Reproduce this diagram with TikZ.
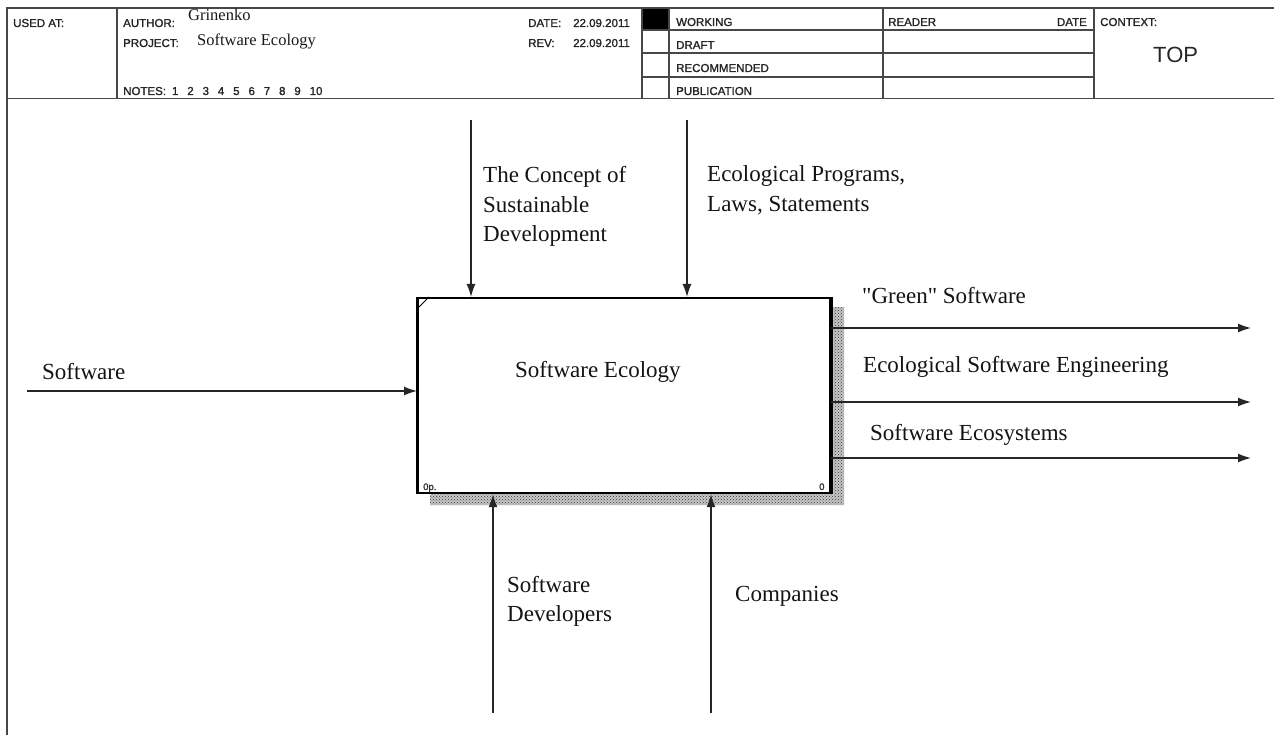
\documentclass[tikz,border=0pt]{standalone}
\usepackage{fontspec}
\setmainfont{Liberation Serif}
\newfontfamily\formfont{Liberation Sans}[FakeBold=1.5]
\newfontfamily\topfont{Liberation Sans}
\usetikzlibrary{arrows.meta,patterns}

\begin{document}
\begin{tikzpicture}[x=1pt,y=-1pt,
  formline/.style={draw=black!72,line width=1.7pt},
  formtext/.style={font=\formfont\fontsize{11.5}{13}\selectfont,text=black!85,inner sep=0pt,anchor=base west},
  formvalue/.style={font=\fontsize{16.5}{19}\selectfont,text=black!90,inner sep=0pt,anchor=base west},
  lbl/.style={font=\fontsize{23}{29.5}\selectfont,text=black!92,inner sep=0pt,anchor=base west},
  flow/.style={draw=black!85,line width=1.4pt,-{Latex[length=13pt,width=9pt]}},
  tag/.style={font=\formfont\fontsize{9.5}{10}\selectfont,text=black!80,inner sep=0pt,anchor=base west}
]
\useasboundingbox (0,0) rectangle (1274,735);
\fill[white] (0,0) rectangle (1274,735);

% ---------- form header ----------
\fill[black] (642,8) rectangle (668,30);
\draw[formline] (7,735) -- (7,8) -- (1274,8);
\draw[formline] (7,98.5) -- (1274,98.5);
\draw[formline] (117,8) -- (117,98.5);
\draw[formline] (642,8) -- (642,98.5);
\draw[formline,line width=2.2pt] (669,8) -- (669,98.5);
\draw[formline] (883,8) -- (883,98.5);
\draw[formline] (1094,8) -- (1094,98.5);
\foreach \yy in {30,53,77} \draw[formline] (642,\yy) -- (1094,\yy);

\node[formtext] (usedat) at (13,27) {USED AT:};
\node[formtext] (author) at (123,27) {AUTHOR:};
\node[formvalue] (authorname) at (188,21) {Grinenko};
\node[formtext] (project) at (123,47) {PROJECT:};
\node[formvalue] (projectname) at (197,46) {Software Ecology};
\node[formtext] (notes) at (123,95) {NOTES:\hskip 6pt 1\hskip 8.9pt 2\hskip 8.9pt 3\hskip 8.9pt 4\hskip 8.9pt 5\hskip 8.9pt 6\hskip 8.9pt 7\hskip 8.9pt 8\hskip 8.9pt 9\hskip 8.9pt 10};
\node[formtext] (datelbl) at (528,27) {DATE:};
\node[formtext] (dateval) at (573,27) {22.09.2011};
\node[formtext] (revlbl) at (528,47) {REV:};
\node[formtext] (revval) at (573,47) {22.09.2011};
\node[formtext] (working) at (676,26) {WORKING};
\node[formtext] (draft) at (676,49) {DRAFT};
\node[formtext] (recommended) at (676,72) {RECOMMENDED};
\node[formtext] (publication) at (676,95) {PUBLICATION};
\node[formtext] (reader) at (888,26) {READER};
\node[formtext,anchor=base east] (readerdate) at (1087,26) {DATE};
\node[formtext] (context) at (1100,26) {CONTEXT:};
\node[formtext,font=\topfont\fontsize{22}{26}\selectfont] (top) at (1153,63) {TOP};

% ---------- activity box with its shadow ----------
\fill[black!22] (830,307) -- (844,307) -- (844,505) -- (430,505) -- (430,493) -- (830,493) -- cycle;
\fill[pattern=crosshatch dots,pattern color=black!80] (830,307) -- (844,307) -- (844,505) -- (430,505) -- (430,493) -- (830,493) -- cycle;
\node[draw=black,fill=white,line width=2.2pt,minimum width=412pt,minimum height=195pt,inner sep=0pt,anchor=north west] (box) at (417,297) {};
\draw[black,line width=2.8pt] (box.north west) -- (box.south west);
\draw[black,line width=2.8pt] (box.north east) -- (box.south east);
\draw[black,line width=0.8pt] (419,307) -- (429,297);
\node[lbl] (boxname) at (515,377) {Software Ecology};
\node[tag] (boxnode) at (423,490) {0p.};
\node[tag] (boxnum) at (819,490) {0};

% ---------- controls (top) ----------
\coordinate (ctlA) at (471,120);
\coordinate (ctlB) at (687,120);
\draw[flow] (ctlA) -- (ctlA |- box.north);
\draw[flow] (ctlB) -- (ctlB |- box.north);
\node[lbl] (ctlAtext) at (483,183) {\vtop{\hbox{The Concept of}\hbox{Sustainable}\hbox{Development}}};
\node[lbl] (ctlBtext) at (707,182) {\vtop{\hbox{Ecological Programs,}\hbox{Laws, Statements}}};

% ---------- input (left) ----------
\coordinate (inA) at (27,391);
\draw[flow] (inA) -- (inA -| box.west);
\node[lbl] (inAtext) at (42,379) {Software};

% ---------- outputs (right) ----------
\coordinate (outA) at (1251,328);
\coordinate (outB) at (1251,402);
\coordinate (outC) at (1251,458);
\draw[flow] (box.east |- outA) -- (outA);
\draw[flow] (box.east |- outB) -- (outB);
\draw[flow] (box.east |- outC) -- (outC);
\node[lbl] (outAtext) at (862,304) {\textquotedbl Green\textquotedbl{} Software};
\node[lbl] (outBtext) at (863,372) {Ecological Software Engineering};
\node[lbl] (outCtext) at (870,440) {Software Ecosystems};

% ---------- mechanisms (bottom) ----------
\coordinate (mechA) at (493,713);
\coordinate (mechB) at (711,713);
\draw[flow] (mechA) -- (mechA |- box.south);
\draw[flow] (mechB) -- (mechB |- box.south);
\node[lbl] (mechAtext) at (507,592) {\vtop{\hbox{Software}\hbox{Developers}}};
\node[lbl] (mechBtext) at (735,601) {Companies};
\end{tikzpicture}
\end{document}
